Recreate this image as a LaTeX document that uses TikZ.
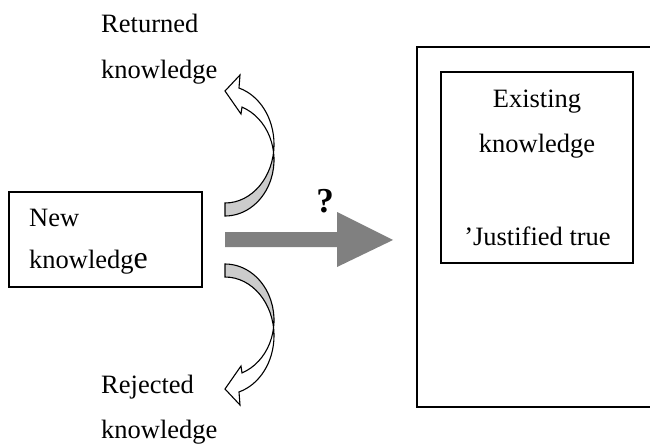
\documentclass[tikz,border=0pt]{standalone}
\usepackage{fontspec}
\setmainfont{Liberation Serif}
\begin{document}
\begin{tikzpicture}[x=1pt,y=-1pt,
  box/.style={draw=black,line width=1.2pt,fill=none,inner sep=0pt},
  lbl/.style={inner sep=0pt,font=\fontsize{26.5}{26.5}\selectfont},
  bandline/.style={draw=black,line width=1.1pt,line join=miter},
  bandgray/.style={fill=black!20}]
\useasboundingbox (0,0) rectangle (650,444);

% boxes
\node[box,minimum width=193,minimum height=95] (newbox) at (105.5,239.5) {};
\node[box,minimum width=250,minimum height=360] (outer) at (542,227) {};
\node[box,minimum width=192,minimum height=191] (inner) at (537,167.5) {};

% texts
\node[lbl,anchor=base west] (ret1) at (101,33) {Returned};
\node[lbl,anchor=base west] (ret2) at (101,78) {knowledge};
\node[lbl,anchor=base west] (new1) at (29,226) {New};
\node[lbl,anchor=base west] (new2) at (29,268) {knowledg{\fontsize{32}{32}\selectfont e}};
\node[lbl,anchor=base west] (rej1) at (101,393) {Rejected};
\node[lbl,anchor=base west] (rej2) at (101,438) {knowledge};
\node[lbl,anchor=base] (ex1) at (537,107) {Existing};
\node[lbl,anchor=base] (ex2) at (537,152) {knowledge};
\node[lbl,anchor=base] (ex3) at (537.5,245) {’Justified true};
\node[lbl,anchor=base,font=\fontsize{35}{35}\selectfont\bfseries] (qm) at (325,212) {?};

% big gray arrow
\fill[gray] (225,232) -- (337,232) -- (337,212) -- (393,240) -- (337,267) -- (337,247) -- (225,247) -- cycle;

% upper curved arrow (returned)
\begin{scope}[shift={(225,240)}]
  \fill[white] (0,-37) arc[start angle=90,end angle=-73.4,x radius=49,y radius=58.7]
    -- (15,-165) -- (0,-149) -- (16,-126) -- (17,-132.9)
    arc[start angle=-69.7,end angle=90,x radius=49,y radius=56.2] -- cycle;
  \fill[bandgray] (0,-37) arc[start angle=90,end angle=7.7,x radius=49,y radius=58.7]
    arc[start angle=-7.8,end angle=90,x radius=49,y radius=56.2] -- cycle;
  \draw[bandline] (0,-37) arc[start angle=90,end angle=-73.4,x radius=49,y radius=58.7]
    -- (15,-165) -- (0,-149) -- (16,-126) -- (17,-132.9)
    arc[start angle=-69.7,end angle=90,x radius=49,y radius=56.2] -- cycle;
\end{scope}

% lower curved arrow (rejected)
\begin{scope}[shift={(225,240)}]
  \fill[white] (0,37) arc[start angle=-90,end angle=73.4,x radius=49,y radius=58.7]
    -- (15,165) -- (0,149) -- (16,126) -- (17,132.9)
    arc[start angle=69.7,end angle=-90,x radius=49,y radius=56.2] -- cycle;
  \fill[bandgray] (0,37) arc[start angle=-90,end angle=-7.7,x radius=49,y radius=58.7]
    arc[start angle=7.8,end angle=-90,x radius=49,y radius=56.2] -- cycle;
  \draw[bandline] (0,37) arc[start angle=-90,end angle=73.4,x radius=49,y radius=58.7]
    -- (15,165) -- (0,149) -- (16,126) -- (17,132.9)
    arc[start angle=69.7,end angle=-90,x radius=49,y radius=56.2] -- cycle;
\end{scope}
\end{tikzpicture}
\end{document}
